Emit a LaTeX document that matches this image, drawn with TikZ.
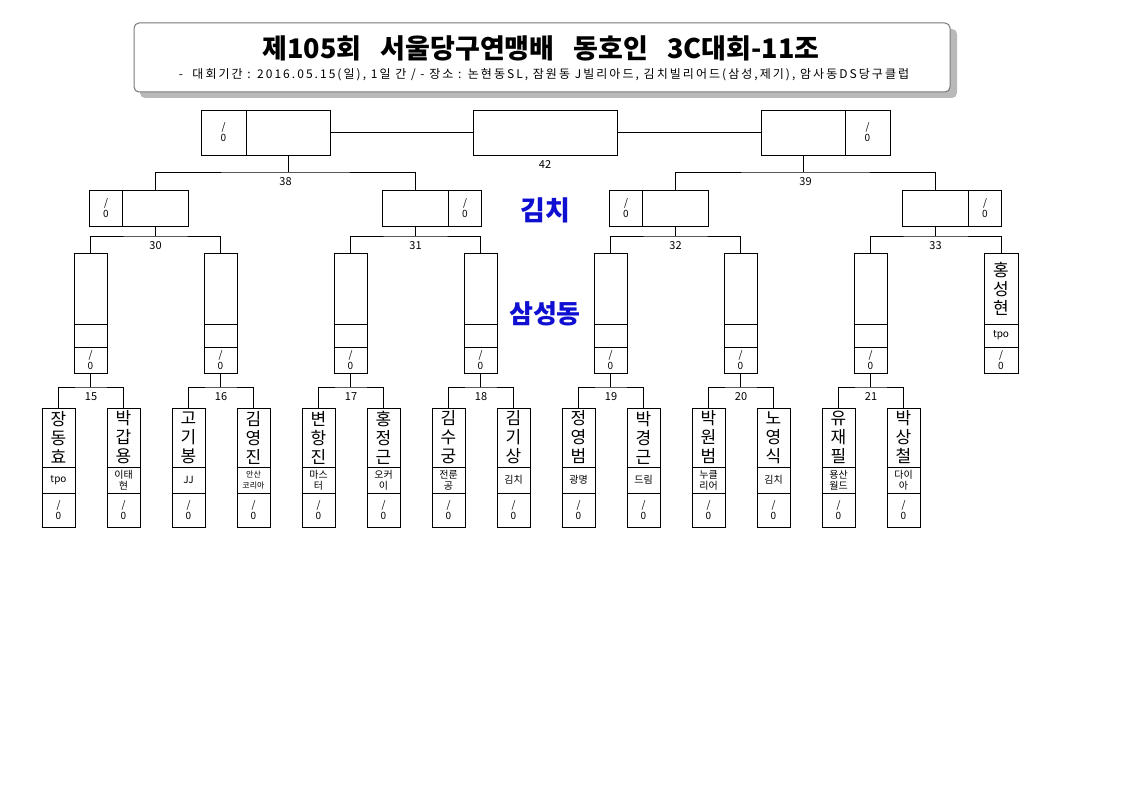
\documentclass[tikz,border=0pt]{standalone}
\usepackage{fontspec}
\setmainfont{Noto Sans CJK KR}
\usepackage{xcolor}
\usetikzlibrary{positioning}
\definecolor{teamblue}{RGB}{15,15,210}
\definecolor{shadowgray}{RGB}{185,185,185}
\definecolor{framegray}{RGB}{120,120,120}

\begin{document}
\begin{tikzpicture}[
    x=1pt, y=-1pt,
    cell/.style={draw, line width=0.8pt, inner sep=0pt, outer sep=0pt, anchor=north west, align=center},
    namecell/.style={cell, minimum width=33pt, font=\fontsize{17}{19}\selectfont},
    clubcell/.style={cell, minimum width=33pt, font=\fontsize{10}{11}\selectfont},
    scorecell/.style={cell, font=\fontsize{10}{11}\selectfont},
    num/.style={font=\fontsize{11}{11}\selectfont, inner sep=0pt},
    link/.style={line width=0.8pt},
]
\useasboundingbox (0,0) rectangle (1123,794);

% Title box
\fill[shadowgray, rounded corners=5pt] (140,29) rectangle (957,98);
\node[draw=framegray, fill=white, line width=1pt, rounded corners=5pt, outer sep=0pt,
      minimum width=816pt, minimum height=69pt, anchor=north west] (titlebox) at (134,23) {};
\node[font=\bfseries\fontsize{27}{27}\selectfont] (title) at (541,48)
    {제105회\hspace{19pt}서울당구연맹배\hspace{19pt}동호인\hspace{19pt}3C대회-11조};
\node[font=\fontsize{12}{12}\selectfont\addfontfeature{LetterSpace=17}] (period) at (544,75)
    {-\ \ 대회기간 : 2016.05.15(일), 1일 간 / - 장소 : 논현동SL, 잠원동 J빌리아드, 김치빌리어드(삼성,제기), 암사동DS당구클럽};

% Final
\node[scorecell, minimum width=45pt, minimum height=45pt] (l1Ls) at (201,110) {/\\0};
\node[cell, minimum width=84pt, minimum height=45pt, right=0pt of l1Ls] (l1Ln) {};
\node[cell, minimum width=144pt, minimum height=45pt] (final) at (473,110) {};
\node[cell, minimum width=84pt, minimum height=45pt] (l1Rn) at (761,110) {};
\node[scorecell, minimum width=45pt, minimum height=45pt, right=0pt of l1Rn] (l1Rs) {/\\0};
\node[num, below=5pt of final] {42};
\draw[link] (l1Ln.east) -- (final.west);
\draw[link] (final.east) -- (l1Rn.west);

% Semi-finals
\node[cell, minimum width=66pt, minimum height=36pt] (r0n) at (122.5,190) {};
\node[scorecell, minimum width=33pt, minimum height=36pt, left=0pt of r0n] (r0s) {/\\0};
\node[cell, minimum width=66pt, minimum height=36pt] (r1n) at (382.5,190) {};
\node[scorecell, minimum width=33pt, minimum height=36pt, right=0pt of r1n] (r1s) {/\\0};
\node[cell, minimum width=66pt, minimum height=36pt] (r2n) at (642.5,190) {};
\node[scorecell, minimum width=33pt, minimum height=36pt, left=0pt of r2n] (r2s) {/\\0};
\node[cell, minimum width=66pt, minimum height=36pt] (r3n) at (902.5,190) {};
\node[scorecell, minimum width=33pt, minimum height=36pt, right=0pt of r3n] (r3s) {/\\0};

\coordinate (b38) at (285.5,172);
\coordinate (b39) at (805.5,172);
\draw[link] (r0n.north) |- (b38) -| (r1n.north);
\draw[link] (l1Ln.south) -- (l1Ln.south |- b38);
\draw[link] (r2n.north) |- (b39) -| (r3n.north);
\draw[link] (l1Rn.south) -- (l1Rn.south |- b39);
\node[num, below=5pt of b38] {38};
\node[num, below=5pt of b39] {39};

% Team labels
\node[font=\bfseries\fontsize{27}{27}\selectfont, text=teamblue] (kimchi) at (545,210) {김치};
\node[font=\bfseries\fontsize{26}{26}\selectfont, text=teamblue] (samsung) at (545,314) {삼성동};

% Quarter-finals
\foreach \j in {0,...,6}{
  \node[namecell, minimum height=71pt] (qn\j) at (74+130*\j,253) {};
  \node[clubcell, minimum height=23pt, below=0pt of qn\j] (qc\j) {};
  \node[scorecell, minimum width=33pt, minimum height=26pt, below=0pt of qc\j] (qs\j) {/\\0};
}
\node[namecell, minimum width=34pt, minimum height=71pt] (qn7) at (984,253) {홍\\성\\현};
\node[clubcell, minimum width=34pt, minimum height=23pt, below=0pt of qn7] (qc7) {tpo};
\node[scorecell, minimum width=34pt, minimum height=26pt, below=0pt of qc7] (qs7) {/\\0};

\foreach \k [evaluate=\k as \a using int(2*\k), evaluate=\k as \b using int(2*\k+1),
             evaluate=\k as \m using int(30+\k)] in {0,...,3}{
  \coordinate (b\m) at (155.5+260*\k,236);
  \draw[link] (qn\a.north) |- (b\m) -| (qn\b.north);
  \draw[link] (r\k n.south) -- (r\k n.south |- b\m);
  \node[num, below=5pt of b\m] {\m};
}

% Players
\foreach \nm/\club/\cfs [count=\i from 0] in {
  장\\동\\효/tpo/10, 박\\갑\\용/이태\\현/10, 고\\기\\봉/JJ/10, 김\\영\\진/안산\\코리아/8,
  변\\항\\진/마스\\터/10, 홍\\정\\근/오커\\이/10, 김\\수\\궁/전룬\\공/10, 김\\기\\상/김치/10,
  정\\영\\범/광명/10, 박\\경\\근/드림/10, 박\\원\\범/누클\\리어/10, 노\\영\\식/김치/10,
  유\\재\\필/용산\\월드/10, 박\\상\\철/다이\\아/10}{
  \node[namecell, minimum height=59pt] (pn\i) at (42+65*\i,408) {\nm};
  \node[clubcell, minimum height=26pt, font=\fontsize{\cfs}{11}\selectfont, below=0pt of pn\i] (pc\i) {\club};
  \node[scorecell, minimum width=33pt, minimum height=34pt, below=0pt of pc\i] (ps\i) {/\\0};
}

\foreach \j [evaluate=\j as \a using int(2*\j), evaluate=\j as \b using int(2*\j+1),
             evaluate=\j as \m using int(15+\j)] in {0,...,6}{
  \coordinate (b\m) at (91+130*\j,387);
  \draw[link] (pn\a.north) |- (b\m) -| (pn\b.north);
  \draw[link] (qs\j.south) -- (qs\j.south |- b\m);
  \node[num, below=5pt of b\m] {\m};
}
\end{tikzpicture}
\end{document}
